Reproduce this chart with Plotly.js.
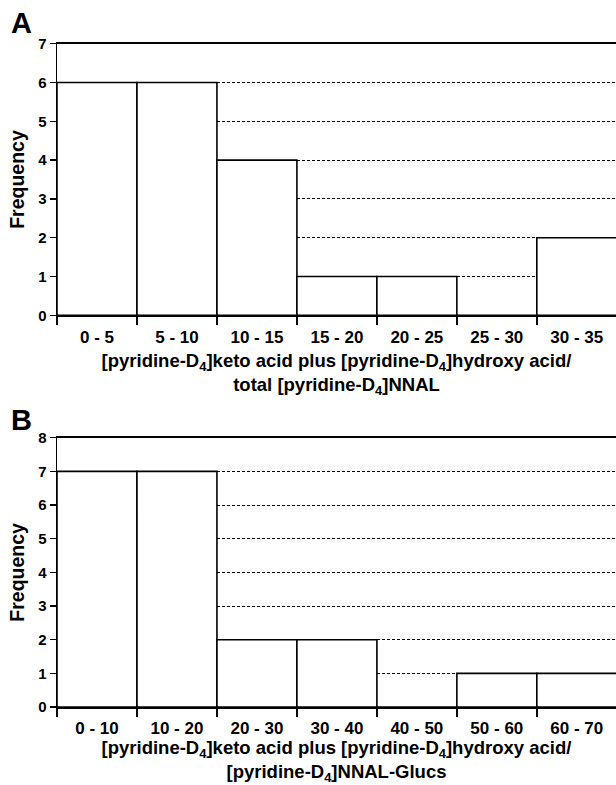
<!DOCTYPE html>
<html>
<head>
<meta charset="utf-8">
<script src="https://cdn.plot.ly/plotly-3.0.1.min.js"></script>
<style>html,body{margin:0;padding:0;background:#fff;}#chart{width:616px;height:785px;}</style>
</head>
<body>
<div id="chart"></div>
<script>
const catsA = ["0 - 5", "5 - 10", "10 - 15", "15 - 20", "20 - 25", "25 - 30", "30 - 35"];
const freqA = [6, 6, 4, 1, 1, 0, 2];
const catsB = ["0 - 10", "10 - 20", "20 - 30", "30 - 40", "40 - 50", "50 - 60", "60 - 70"];
const freqB = [7, 7, 2, 2, 0, 1, 1];
const yTicksA = [0, 1, 2, 3, 4, 5, 6, 7];
const yTicksB = [0, 1, 2, 3, 4, 5, 6, 7, 8];
const xTitleA = "[pyridine-D<sub>4</sub>]keto acid plus [pyridine-D<sub>4</sub>]hydroxy acid/<br>total [pyridine-D<sub>4</sub>]NNAL";
const xTitleB = "[pyridine-D<sub>4</sub>]keto acid plus [pyridine-D<sub>4</sub>]hydroxy acid/<br>[pyridine-D<sub>4</sub>]NNAL-Glucs";
const yTitle = "Frequency";

const FAM = "Liberation Sans, Arial, Helvetica, sans-serif";
const W = 616, H = 785, L = 56.7;

const barStyle = {color: "#ffffff", line: {color: "#000000", width: 1.6}};

const traces = [
  {type: "bar", x: catsA, y: freqA, xaxis: "x", yaxis: "y", marker: barStyle, hoverinfo: "x+y"},
  {type: "bar", x: catsB, y: freqB, xaxis: "x2", yaxis: "y2", marker: barStyle, hoverinfo: "x+y"}
];

function xAxis(anchor, title) {
  return {
    anchor: anchor, domain: [0, 1], type: "category",
    range: [-0.5, 6.49],
    tickson: "boundaries", ticks: "outside", ticklen: 8, tickwidth: 1.5, tickcolor: "#000",
    ticklabelstandoff: 5,
    showline: true, linecolor: "#000", linewidth: 2, mirror: true,
    showgrid: false, zeroline: false, automargin: false,
    tickfont: {family: FAM, size: 17, color: "#000", weight: "bold"},
    title: {text: title, standoff: 8, font: {family: FAM, size: 18.5, color: "#000", weight: "bold"}}
  };
}
function yAxis(domain, maxv, vals) {
  return {
    domain: domain, range: [0, maxv], tickvals: vals, ticktext: vals.map(String),
    ticks: "outside", ticklen: 6, tickwidth: 1.5, tickcolor: "#000",
    showline: true, linecolor: "#000", linewidth: 1.5,
    showgrid: true, gridcolor: "#000", gridwidth: 1, griddash: "3px,2px",
    zeroline: false, automargin: false,
    tickfont: {family: FAM, size: 15, color: "#000", weight: "bold"},
    title: {text: yTitle, standoff: 8, font: {family: FAM, size: 19.5, color: "#000", weight: "bold"}}
  };
}

const layout = {
  width: W, height: H,
  margin: {l: L, r: 0, t: 0, b: 0, pad: 0},
  paper_bgcolor: "#fff", plot_bgcolor: "#fff",
  showlegend: false, bargap: 0,
  xaxis: xAxis("y", xTitleA),
  yaxis: yAxis([1 - 315.3 / H, 1 - 43.7 / H], 7, yTicksA),
  xaxis2: xAxis("y2", xTitleB),
  yaxis2: yAxis([1 - 707 / H, 1 - 437.7 / H], 8, yTicksB),
  annotations: [
    {text: "A", xref: "paper", yref: "paper", x: (9 - L) / (W - L), y: 1 - 23 / H, xanchor: "left", yanchor: "middle", showarrow: false,
     font: {family: FAM, size: 29, color: "#000", weight: "bold"}},
    {text: "B", xref: "paper", yref: "paper", x: (9 - L) / (W - L), y: 1 - 420 / H, xanchor: "left", yanchor: "middle", showarrow: false,
     font: {family: FAM, size: 29, color: "#000", weight: "bold"}}
  ]
};

Plotly.newPlot("chart", traces, layout, {displayModeBar: false, staticPlot: true});
</script>
</body>
</html>
